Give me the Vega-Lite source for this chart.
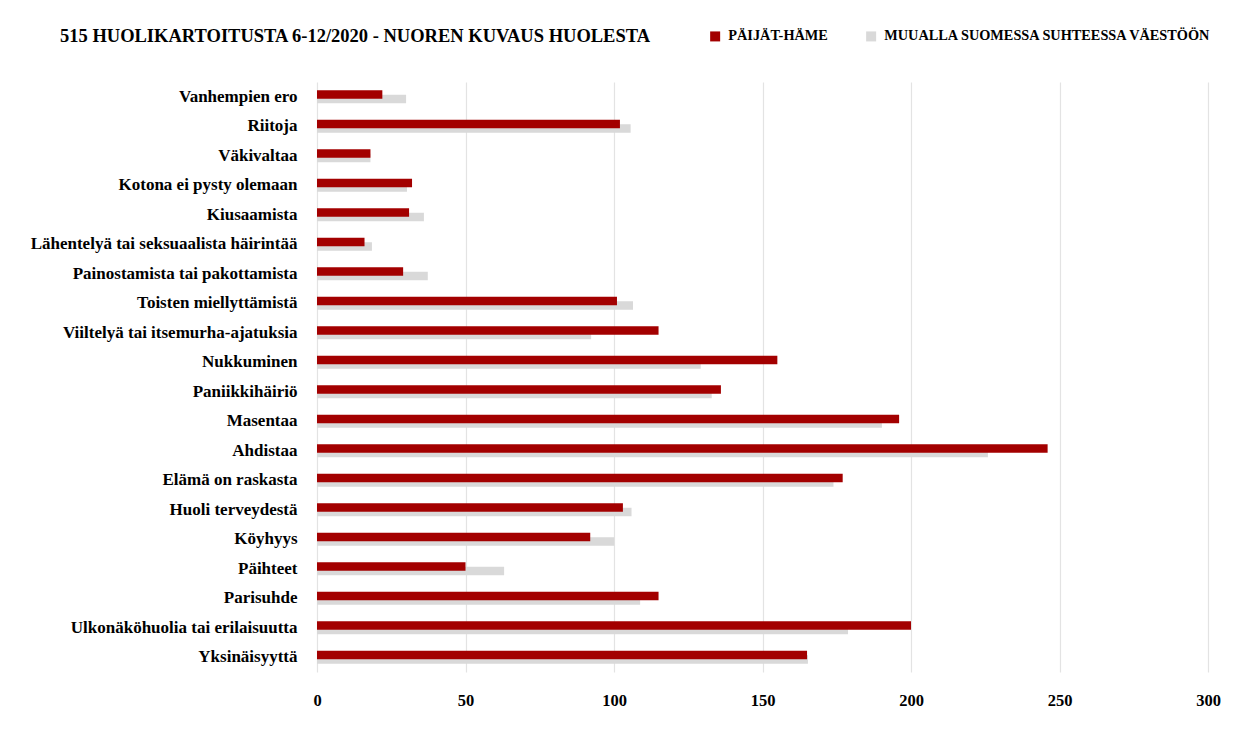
{
  "$schema": "https://vega.github.io/schema/vega-lite/v6.json",
  "width": 891,
  "height": 590,
  "autosize": {"type": "none"},
  "padding": {"left": 317, "top": 82, "right": 29, "bottom": 64},
  "background": "white",
  "title": {
    "text": "515 HUOLIKARTOITUSTA 6-12/2020 - NUOREN KUVAUS HUOLESTA",
    "anchor": "start",
    "frame": "group",
    "dx": -257,
    "offset": 0,
    "dy": 16,
    "font": "Liberation Serif",
    "fontSize": 18.5,
    "fontWeight": "bold",
    "color": "#000000"
  },
  "data": {
    "values": [
      {"kategoria": "Vanhempien ero", "sarja": "Päijät-Häme", "arvo": 22},
      {"kategoria": "Vanhempien ero", "sarja": "Muualla Suomessa suhteessa väestöön", "arvo": 30},
      {"kategoria": "Riitoja", "sarja": "Päijät-Häme", "arvo": 102},
      {"kategoria": "Riitoja", "sarja": "Muualla Suomessa suhteessa väestöön", "arvo": 105.6},
      {"kategoria": "Väkivaltaa", "sarja": "Päijät-Häme", "arvo": 18},
      {"kategoria": "Väkivaltaa", "sarja": "Muualla Suomessa suhteessa väestöön", "arvo": 18},
      {"kategoria": "Kotona ei pysty olemaan", "sarja": "Päijät-Häme", "arvo": 32},
      {"kategoria": "Kotona ei pysty olemaan", "sarja": "Muualla Suomessa suhteessa väestöön", "arvo": 30.3},
      {"kategoria": "Kiusaamista", "sarja": "Päijät-Häme", "arvo": 31},
      {"kategoria": "Kiusaamista", "sarja": "Muualla Suomessa suhteessa väestöön", "arvo": 36},
      {"kategoria": "Lähentelyä tai seksuaalista häirintää", "sarja": "Päijät-Häme", "arvo": 16},
      {"kategoria": "Lähentelyä tai seksuaalista häirintää", "sarja": "Muualla Suomessa suhteessa väestöön", "arvo": 18.5},
      {"kategoria": "Painostamista tai pakottamista", "sarja": "Päijät-Häme", "arvo": 29},
      {"kategoria": "Painostamista tai pakottamista", "sarja": "Muualla Suomessa suhteessa väestöön", "arvo": 37.3},
      {"kategoria": "Toisten miellyttämistä", "sarja": "Päijät-Häme", "arvo": 101},
      {"kategoria": "Toisten miellyttämistä", "sarja": "Muualla Suomessa suhteessa väestöön", "arvo": 106.4},
      {"kategoria": "Viiltelyä tai itsemurha-ajatuksia", "sarja": "Päijät-Häme", "arvo": 115},
      {"kategoria": "Viiltelyä tai itsemurha-ajatuksia", "sarja": "Muualla Suomessa suhteessa väestöön", "arvo": 92.3},
      {"kategoria": "Nukkuminen", "sarja": "Päijät-Häme", "arvo": 155},
      {"kategoria": "Nukkuminen", "sarja": "Muualla Suomessa suhteessa väestöön", "arvo": 129.2},
      {"kategoria": "Paniikkihäiriö", "sarja": "Päijät-Häme", "arvo": 136},
      {"kategoria": "Paniikkihäiriö", "sarja": "Muualla Suomessa suhteessa väestöön", "arvo": 132.9},
      {"kategoria": "Masentaa", "sarja": "Päijät-Häme", "arvo": 196},
      {"kategoria": "Masentaa", "sarja": "Muualla Suomessa suhteessa väestöön", "arvo": 190.2},
      {"kategoria": "Ahdistaa", "sarja": "Päijät-Häme", "arvo": 246},
      {"kategoria": "Ahdistaa", "sarja": "Muualla Suomessa suhteessa väestöön", "arvo": 225.9},
      {"kategoria": "Elämä on raskasta", "sarja": "Päijät-Häme", "arvo": 177},
      {"kategoria": "Elämä on raskasta", "sarja": "Muualla Suomessa suhteessa väestöön", "arvo": 173.9},
      {"kategoria": "Huoli terveydestä", "sarja": "Päijät-Häme", "arvo": 103},
      {"kategoria": "Huoli terveydestä", "sarja": "Muualla Suomessa suhteessa väestöön", "arvo": 105.9},
      {"kategoria": "Köyhyys", "sarja": "Päijät-Häme", "arvo": 92},
      {"kategoria": "Köyhyys", "sarja": "Muualla Suomessa suhteessa väestöön", "arvo": 100.1},
      {"kategoria": "Päihteet", "sarja": "Päijät-Häme", "arvo": 50},
      {"kategoria": "Päihteet", "sarja": "Muualla Suomessa suhteessa väestöön", "arvo": 63},
      {"kategoria": "Parisuhde", "sarja": "Päijät-Häme", "arvo": 115},
      {"kategoria": "Parisuhde", "sarja": "Muualla Suomessa suhteessa väestöön", "arvo": 108.8},
      {"kategoria": "Ulkonäköhuolia tai erilaisuutta", "sarja": "Päijät-Häme", "arvo": 200},
      {"kategoria": "Ulkonäköhuolia tai erilaisuutta", "sarja": "Muualla Suomessa suhteessa väestöön", "arvo": 178.8},
      {"kategoria": "Yksinäisyyttä", "sarja": "Päijät-Häme", "arvo": 165},
      {"kategoria": "Yksinäisyyttä", "sarja": "Muualla Suomessa suhteessa väestöön", "arvo": 165.3}
    ]
  },
  "encoding": {
    "y": {
      "field": "kategoria",
      "type": "nominal",
      "sort": null,
      "scale": {"paddingInner": 0, "paddingOuter": 0},
      "axis": {
        "title": null,
        "domain": false,
        "ticks": false,
        "grid": false,
        "labelPadding": 20,
        "labelFont": "Liberation Serif",
        "labelFontWeight": "bold",
        "labelFontSize": 17,
        "labelColor": "#000000",
        "labelLimit": 400
      }
    },
    "x": {
      "field": "arvo",
      "type": "quantitative",
      "scale": {"domain": [0, 300], "nice": false},
      "axis": {
        "title": null,
        "values": [0, 50, 100, 150, 200, 250, 300],
        "domain": false,
        "ticks": false,
        "grid": true,
        "gridColor": "#e3e3e3",
        "gridWidth": 1.2,
        "labelFlush": false,
        "labelPadding": 20,
        "labelFont": "Liberation Serif",
        "labelFontWeight": "bold",
        "labelFontSize": 16.5,
        "labelColor": "#000000"
      }
    },
    "color": {
      "field": "sarja",
      "type": "nominal",
      "scale": {
        "domain": ["Päijät-Häme", "Muualla Suomessa suhteessa väestöön"],
        "range": ["#a30000", "#d9d9d9"]
      },
      "legend": {
        "title": null,
        "orient": "none",
        "direction": "horizontal",
        "legendX": 391,
        "legendY": -53,
        "symbolType": "square",
        "symbolSize": 100,
        "symbolStrokeWidth": 0,
        "labelOffset": 6,
        "columnPadding": 36,
        "labelFont": "Liberation Serif",
        "labelFontWeight": "bold",
        "labelFontSize": 14.3,
        "labelColor": "#000000",
        "labelLimit": 500,
        "labelExpr": "upper(datum.label)"
      }
    }
  },
  "layer": [
    {
      "transform": [{"filter": "datum.sarja === 'Muualla Suomessa suhteessa väestöön'"}],
      "mark": {"type": "bar", "height": 8.4, "yOffset": 2.2}
    },
    {
      "transform": [{"filter": "datum.sarja === 'Päijät-Häme'"}],
      "mark": {"type": "bar", "height": 8.4, "yOffset": -2.2}
    }
  ],
  "config": {
    "view": {"stroke": null},
    "font": "Liberation Serif"
  }
}
